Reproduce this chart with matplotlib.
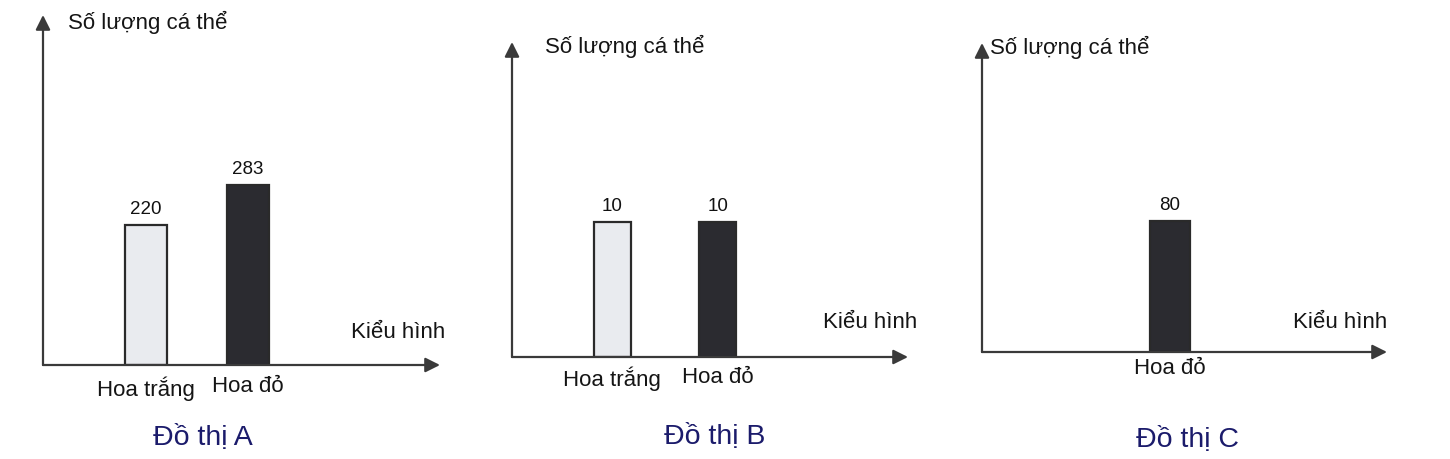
import matplotlib
matplotlib.use("Agg")
import matplotlib.pyplot as plt

plt.rcParams['font.family'] = ['Liberation Sans', 'DejaVu Sans']

# chart data
chart_titles = ["Đồ thị A", "Đồ thị B", "Đồ thị C"]
phenotypes_a = ["Hoa trắng", "Hoa đỏ"]
counts_a = [220, 283]
phenotypes_b = ["Hoa trắng", "Hoa đỏ"]
counts_b = [10, 10]
phenotypes_c = ["Hoa đỏ"]
counts_c = [80]

Y_LABEL = "Số lượng cá thể"
X_LABEL = "Kiểu hình"

BAR_COLORS = {"Hoa trắng": "#e9ebef", "Hoa đỏ": "#2b2b30"}
LINE = "#3a3a3a"
TITLE_COLOR = "#1b1b6b"

W, H = 1450, 459

# axes boxes in pixels: left, top, right, bottom
boxes = [(43, 15, 440, 365), (512, 42, 908, 357), (982, 43, 1387, 352)]
ylims = [550, 23.3, 188]
xlims = [(-1.01, 2.88), (-0.95, 2.80), (-1.88, 2.17)]
widths = [0.41, 0.35, 0.40]
tick_pads = [8, 7, 4]
# label offsets in pixels
ylabel_off = [(25, -7), (33, -4), (8, -4)]
xlabel_off = [(5, 32), (9, 34), (0, 30)]
title_pos = [(203, 438), (715, 437), (1188, 440)]


def fx(x):
    return x / W


def fy(y):
    return 1 - y / H


def pt(p):
    return p * 72 / 100


fig = plt.figure(figsize=(W / 100, H / 100), dpi=100)
fig.patch.set_facecolor("white")

data = [(phenotypes_a, counts_a), (phenotypes_b, counts_b), (phenotypes_c, counts_c)]

for i, (names, counts) in enumerate(data):
    l, t, r, b = boxes[i]
    ax = fig.add_axes([fx(l), fy(b), (r - l) / W, (b - t) / H])
    ax.set_facecolor("none")
    for s in ax.spines.values():
        s.set_visible(False)
    xs = list(range(len(names)))
    colors = [BAR_COLORS[n] for n in names]
    ax.bar(xs, counts, width=widths[i], color=colors, edgecolor="#2a2a2a",
           linewidth=1.6, zorder=2)
    for x, v in zip(xs, counts):
        ax.annotate(str(v), xy=(x, v), xytext=(0, 5), textcoords="offset points",
                    ha="center", va="bottom", fontsize=13.5, color="#111111")
    ax.set_xlim(*xlims[i])
    ax.set_ylim(0, ylims[i])
    ax.set_yticks([])
    ax.set_xticks(xs)
    ax.set_xticklabels(names, fontsize=16, color="#151515")
    ax.tick_params(axis="x", length=0, pad=tick_pads[i])

    # arrowed axes
    ax.annotate("", xy=(1, 0), xytext=(0, 0), xycoords="axes fraction",
                arrowprops=dict(arrowstyle="-|>", color=LINE, lw=1.6,
                                mutation_scale=22, shrinkA=0, shrinkB=0),
                annotation_clip=False, zorder=3)
    ax.annotate("", xy=(0, 1), xytext=(0, 0), xycoords="axes fraction",
                arrowprops=dict(arrowstyle="-|>", color=LINE, lw=1.6,
                                mutation_scale=22, shrinkA=0, shrinkB=0),
                annotation_clip=False, zorder=3)

    # axis titles
    ox, oy = ylabel_off[i]
    ax.annotate(Y_LABEL, xy=(0, 1), xycoords="axes fraction",
                xytext=(pt(ox), pt(oy)), textcoords="offset points",
                ha="left", va="center", fontsize=16, color="#151515",
                annotation_clip=False)
    ox, oy = xlabel_off[i]
    ax.annotate(X_LABEL, xy=(1, 0), xycoords="axes fraction",
                xytext=(pt(ox), pt(oy)), textcoords="offset points",
                ha="right", va="center", fontsize=16, color="#151515",
                annotation_clip=False)

    tx, ty = title_pos[i]
    fig.text(fx(tx), fy(ty), chart_titles[i], ha="center", va="center",
             fontsize=20.5, color=TITLE_COLOR)

fig.savefig("out.png", dpi=100, facecolor="white")
